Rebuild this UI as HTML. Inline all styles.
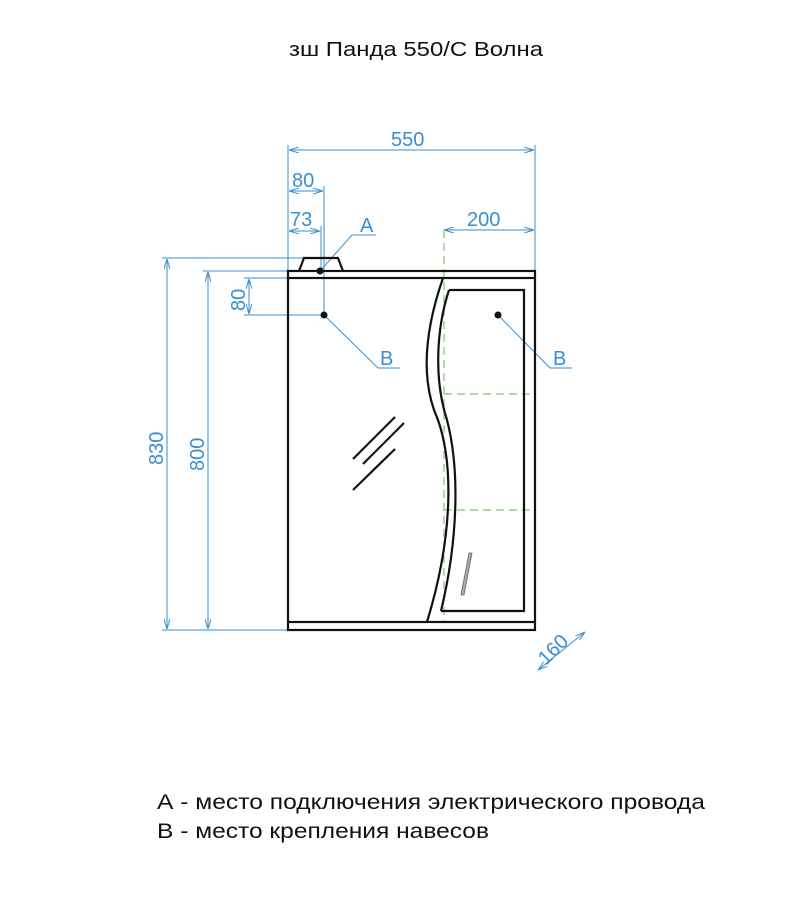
<!DOCTYPE html>
<html><head><meta charset="utf-8"><style>
html,body{margin:0;padding:0;background:#fff;width:785px;height:900px;overflow:hidden}
svg{display:block}
text{font-family:"Liberation Sans","DejaVu Sans",sans-serif}
</style></head><body>
<svg width="785" height="900" viewBox="0 0 785 900" xmlns="http://www.w3.org/2000/svg">
<defs>
<marker id="ar" viewBox="0 0 10 6" refX="10" refY="3" markerWidth="10" markerHeight="6" orient="auto-start-reverse" markerUnits="userSpaceOnUse"><path d="M0,0 L10,3 L0,6" fill="none" stroke="#3a8ed0" stroke-width="1"/></marker>
</defs>
<text x="289" y="56" font-size="20" fill="#111" textLength="254" lengthAdjust="spacingAndGlyphs">зш Панда 550/С Волна</text>

<g stroke="#3a8ed0" stroke-width="1" fill="none">
<line x1="288" y1="145" x2="288" y2="271"/>
<line x1="535" y1="145" x2="535" y2="271"/>
<line x1="289" y1="150" x2="534" y2="150" marker-start="url(#ar)" marker-end="url(#ar)"/>
<line x1="324" y1="186" x2="324" y2="315"/>
<line x1="289" y1="191" x2="323" y2="191" marker-start="url(#ar)" marker-end="url(#ar)"/>
<line x1="321" y1="226" x2="321" y2="271"/>
<line x1="289" y1="231" x2="320" y2="231" marker-start="url(#ar)" marker-end="url(#ar)"/>
<line x1="444" y1="230" x2="534" y2="230" marker-start="url(#ar)" marker-end="url(#ar)"/>
<line x1="162" y1="258" x2="320" y2="258"/>
<line x1="162" y1="630" x2="288" y2="630"/>
<line x1="167" y1="259" x2="167" y2="629" marker-start="url(#ar)" marker-end="url(#ar)"/>
<line x1="203" y1="271" x2="288" y2="271"/>
<line x1="208" y1="272" x2="208" y2="629" marker-start="url(#ar)" marker-end="url(#ar)"/>
<line x1="244" y1="278" x2="288" y2="278"/>
<line x1="244" y1="315" x2="324" y2="315"/>
<line x1="249" y1="279" x2="249" y2="314" marker-start="url(#ar)" marker-end="url(#ar)"/>
<polyline points="320,271 352,235 376,235"/>
<polyline points="324,315 378,368 400,368"/>
<polyline points="498,315 550,368 572,368"/>
<line x1="538" y1="670" x2="585" y2="632" marker-start="url(#ar)" marker-end="url(#ar)"/>
</g>
<g fill="#3a8ed0" font-size="20">
<text x="391" y="146">550</text>
<text x="292" y="187">80</text>
<text x="290" y="226">73</text>
<text x="360" y="232">A</text>
<text x="467" y="226">200</text>
<text x="380" y="365">B</text>
<text x="553" y="365">B</text>
<text transform="translate(163,465) rotate(-90)">830</text>
<text transform="translate(204,471) rotate(-90)">800</text>
<text transform="translate(245,311) rotate(-90)">80</text>
<text transform="translate(546,666) rotate(-45)">160</text>
</g>

<g stroke="#7bc86b" stroke-width="1.2" fill="none" stroke-dasharray="8,5">
<line x1="444" y1="230" x2="444" y2="622"/>
<line x1="444" y1="394" x2="535" y2="394"/>
<line x1="444" y1="510" x2="535" y2="510"/>
</g>

<g stroke="#111" stroke-width="2.2" fill="none">
<rect x="288" y="271" width="247" height="7"/>
<rect x="288" y="622" width="247" height="8"/>
<line x1="288" y1="278" x2="288" y2="622"/>
<line x1="535" y1="278" x2="535" y2="622"/>
<path d="M299,271 L304,258 L338,258 L343,271"/>
<path d="M443,278 C425,330 420,380 438,420 C452,460 455,530 427,622"/>
<path d="M449,290 C436,330 434,380 447,420 C460,470 458,540 441,611"/>
<path d="M449,290 L524,290 L524,611 L441,611"/>
<line x1="353" y1="459" x2="395" y2="417"/>
<line x1="363" y1="464" x2="404" y2="423"/>
<line x1="353" y1="490" x2="395" y2="449"/>
</g>
<path d="M469,553 L472,553 L464,595 L461,595 Z" fill="#aaa" stroke="#666" stroke-width="0.8"/>
<g fill="#111">
<circle cx="320" cy="271" r="3.5"/>
<circle cx="324" cy="315" r="3.5"/>
<circle cx="498" cy="315" r="3.5"/>
</g>

<text x="157" y="809" font-size="21" fill="#111" textLength="548" lengthAdjust="spacingAndGlyphs">А - место подключения электрического провода</text>
<text x="157" y="838" font-size="21" fill="#111" textLength="332" lengthAdjust="spacingAndGlyphs">В - место крепления навесов</text>
</svg>
</body></html>
